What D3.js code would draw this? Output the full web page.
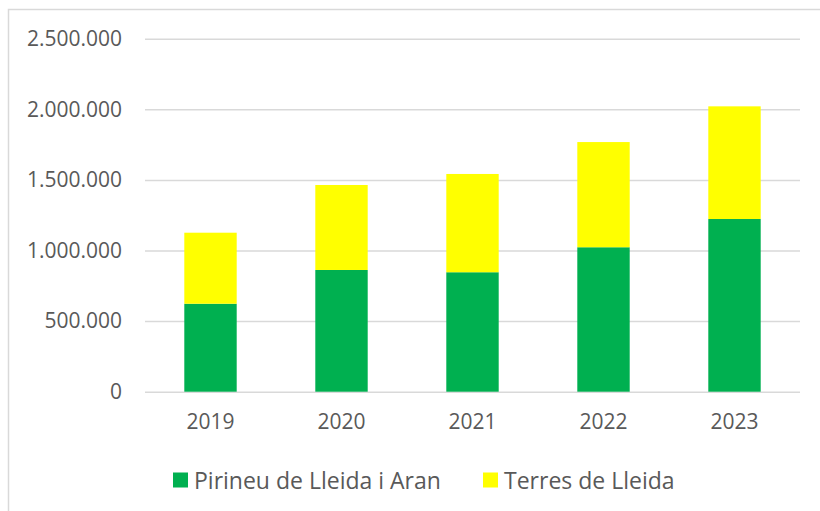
<!DOCTYPE html>
<html>
<head>
<meta charset="utf-8">
<script src="https://cdn.jsdelivr.net/npm/d3@7"></script>
<style>
  body { margin: 0; background: #fff; }
  text { font-family: "Open Sans", sans-serif; fill: #595959; }
</style>
</head>
<body>
<div id="chart"></div>
<script>
const years = ['2019', '2020', '2021', '2022', '2023'];
const pirineu = [623000, 862000, 846000, 1023000, 1223000];
const terres = [503000, 602000, 696000, 745000, 798000];
const yTicks = [0, 500000, 1000000, 1500000, 2000000, 2500000];
const seriesNames = ['Pirineu de Lleida i Aran', 'Terres de Lleida'];
const seriesColors = ['#00b050', '#ffff00'];

const width = 820, height = 511;
const margin = { top: 38.7, right: 20, bottom: 119.3, left: 145 };
const plotW = width - margin.left - margin.right;
const plotH = height - margin.top - margin.bottom;

const svg = d3.select('#chart')
  .append('svg')
  .attr('width', width)
  .attr('height', height);

// chart frame (only left/top visible in the picture)
svg.append('rect')
  .attr('x', 8.5).attr('y', 9.5)
  .attr('width', 900).attr('height', 600)
  .attr('fill', 'none')
  .attr('stroke', '#d9d9d9')
  .attr('stroke-width', 1.5);

const g = svg.append('g')
  .attr('transform', 'translate(' + margin.left + ',' + margin.top + ')');

const x = d3.scaleBand()
  .domain(years)
  .range([0, plotW])
  .paddingInner(0.6)
  .paddingOuter(0.3);

const y = d3.scaleLinear()
  .domain([0, 2500000])
  .range([plotH, 0]);

const fmt = v => d3.format(',')(v).replace(/,/g, '.');

// gridlines + y labels
const yAxis = d3.axisLeft(y)
  .tickValues(yTicks)
  .tickSize(-plotW)
  .tickPadding(23)
  .tickFormat(fmt);

const yg = g.append('g').call(yAxis);
yg.select('.domain').remove();
yg.selectAll('.tick line')
  .attr('stroke', '#d9d9d9')
  .attr('stroke-width', 1.5);
yg.selectAll('.tick text')
  .style('font-size', '21px')
  .attr('fill', '#595959');

// stacked bars
const rows = years.map((yr, i) => ({ year: yr, p: pirineu[i], t: terres[i] }));
const stack = d3.stack().keys(['p', 't'])(rows);

g.selectAll('.layer')
  .data(stack)
  .enter().append('g')
    .attr('fill', (d, i) => seriesColors[i])
  .selectAll('rect')
  .data(d => d)
  .enter().append('rect')
    .attr('x', d => x(d.data.year))
    .attr('y', d => y(d[1]))
    .attr('width', x.bandwidth())
    .attr('height', d => y(d[0]) - y(d[1]));

// x axis labels
const xAxis = d3.axisBottom(x).tickSize(0).tickPadding(22);
const xg = g.append('g')
  .attr('transform', 'translate(0,' + plotH + ')')
  .call(xAxis);
xg.select('.domain').remove();
xg.selectAll('.tick text')
  .style('font-size', '21px')
  .attr('fill', '#595959');

// legend
const legendX = [173, 483];
const legend = svg.selectAll('.legend')
  .data(seriesNames)
  .enter().append('g')
    .attr('transform', (d, i) => 'translate(' + legendX[i] + ',472.5)');

legend.append('rect')
  .attr('width', 15).attr('height', 15)
  .attr('fill', (d, i) => seriesColors[i]);

legend.append('text')
  .attr('x', 21)
  .attr('y', 16)
  .style('font-size', '23px')
  .text(d => d);
</script>
</body>
</html>
